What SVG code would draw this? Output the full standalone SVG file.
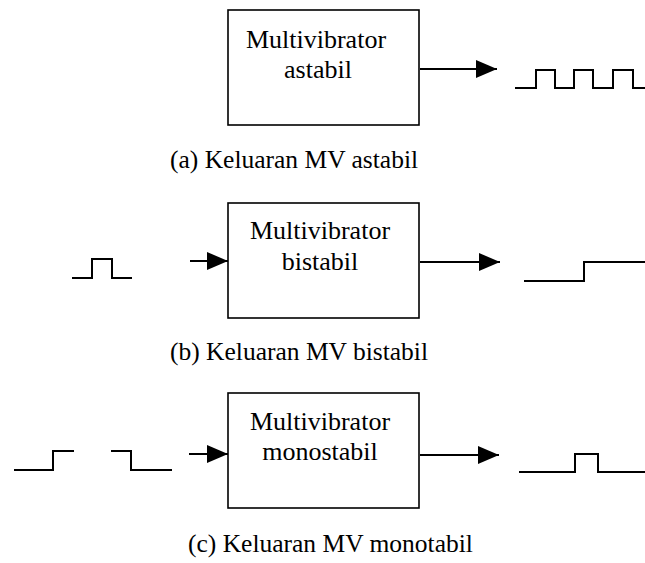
<svg xmlns="http://www.w3.org/2000/svg" width="645" height="563" viewBox="0 0 645 563">
<style>
  text { font-family: "Liberation Serif", "Times New Roman", serif; fill: #000; }
  .lbl { font-size: 26px; text-anchor: middle; }
  .cap { font-size: 25.5px; }
  .box { fill: #fff; stroke: #000; stroke-width: 1.6; }
  .wave { fill: none; stroke: #000; stroke-width: 2; }
  .arr { fill: none; stroke: #000; stroke-width: 2; marker-end: url(#ah); }
</style>
<defs>
  <marker id="ah" markerUnits="userSpaceOnUse" markerWidth="22" markerHeight="20" refX="21" refY="9" orient="auto">
    <path d="M0,0 L21,9 L0,18 Z" fill="#000"/>
  </marker>
</defs>
<rect width="645" height="563" fill="#fff"/>

<g id="connectors">
  <line class="arr" x1="420" y1="69" x2="497" y2="69"/>
  <line class="arr" x1="190" y1="261" x2="228" y2="261"/>
  <line class="arr" x1="420" y1="262" x2="500" y2="262"/>
  <line class="arr" x1="189" y1="454" x2="228" y2="454"/>
  <line class="arr" x1="420" y1="455" x2="499" y2="455"/>
</g>

<g id="node-astabil">
  <rect class="box" x="228" y="10" width="191" height="115"/>
  <text class="lbl" x="316" y="48">Multivibrator</text>
  <text class="lbl" x="318" y="78">astabil</text>
</g>
<g id="wave-astabil-out">
  <path class="wave" d="M515,88 H536 V70 H555 V88 H574 V70 H593 V88 H613 V70 H633 V88 H645"/>
</g>
<text id="caption-a" class="cap" x="170" y="168">(a) Keluaran MV astabil</text>

<g id="node-bistabil">
  <rect class="box" x="228" y="203" width="191" height="115"/>
  <text class="lbl" x="320" y="239">Multivibrator</text>
  <text class="lbl" x="320" y="270">bistabil</text>
</g>
<g id="wave-bistabil-in">
  <path class="wave" d="M72,278 H92 V259 H112 V278 H132"/>
</g>
<g id="wave-bistabil-out">
  <path class="wave" d="M524,281 H584 V262 H645"/>
</g>
<text id="caption-b" class="cap" x="170" y="360">(b) Keluaran MV bistabil</text>

<g id="node-monostabil">
  <rect class="box" x="228" y="393" width="191" height="115"/>
  <text class="lbl" x="320" y="430">Multivibrator</text>
  <text class="lbl" x="320" y="460">monostabil</text>
</g>
<g id="wave-monostabil-in">
  <path class="wave" d="M14,470 H53 V451 H74"/>
  <path class="wave" d="M111,451 H131 V470 H172"/>
</g>
<g id="wave-monostabil-out">
  <path class="wave" d="M519,472 H575 V454 H598 V472 H645"/>
</g>
<text id="caption-c" class="cap" x="188" y="552">(c) Keluaran MV monotabil</text>
</svg>
